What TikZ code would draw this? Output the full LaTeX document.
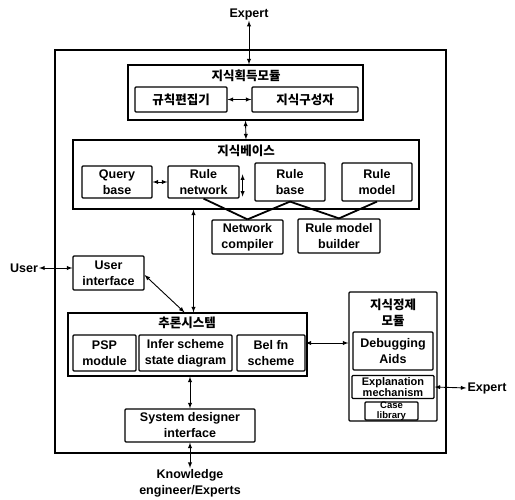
\documentclass[tikz,border=0pt]{standalone}
\usepackage{fontspec}
\setmainfont{Liberation Sans}
\newfontfamily\kr{Noto Sans CJK KR}
\usetikzlibrary{arrows}

\begin{document}
\begin{tikzpicture}[x=1pt, y=-1pt, >=latex,
  frame/.style={draw, line width=1.2pt, inner sep=0pt},
  box/.style={draw, line width=1.2pt, rounded corners=1pt, inner sep=0pt, align=center,
    font=\fontsize{12.5}{16}\selectfont\bfseries},
  lbl/.style={inner sep=1pt, align=center, font=\fontsize{12.5}{16}\selectfont\bfseries},
  ttl/.style={inner sep=1pt, align=center, font=\fontsize{12.5}{15.5}\selectfont\kr\bfseries},
  link/.style={<->, line width=0.9pt},
  feed/.style={line width=1.8pt}]
\useasboundingbox (0,0) rectangle (515,500);

% whole system
\node[frame, minimum width=391pt, minimum height=403pt] (sys) at (250.5,251.5) {};

% acquisition
\node[frame, minimum width=235pt, minimum height=55pt] (acq) at (245.5,92.5) {};
\node[ttl] (acqt) at (246,76) {지식획득모듈};
\node[box, minimum width=92pt, minimum height=25pt] (edit) at (181,99.5) {\kr 규칙편집기};
\node[box, minimum width=106pt, minimum height=25pt] (build) at (305,99.5) {\kr 지식구성자};

% knowledge base
\node[frame, minimum width=346pt, minimum height=69pt] (kb) at (246,174.5) {};
\node[ttl] (kbt) at (246,151) {지식베이스};
\node[box, minimum width=70pt, minimum height=32pt] (qb) at (117,182) {Query\\base};
\node[box, minimum width=71pt, minimum height=32pt] (rn) at (203.5,182) {Rule\\network};
\node[box, minimum width=70pt, minimum height=38pt] (rb) at (290,182) {Rule\\base};
\node[box, minimum width=70pt, minimum height=38pt] (rm) at (377,182) {Rule\\model};
\node[box, minimum width=71pt, minimum height=34pt] (nc) at (247.5,237) {Network\\compiler};
\node[box, minimum width=82pt, minimum height=34pt] (rmb) at (339,236) {Rule model\\builder};

% user side
\node[lbl] (user) at (24,268) {User};
\node[box, minimum width=71pt, minimum height=34pt] (ui) at (108.5,273) {User\\interface};

% inference
\node[frame, minimum width=239pt, minimum height=63pt] (inf) at (187.5,344.5) {};
\node[ttl] (inft) at (187,323) {추론시스템};
\node[box, minimum width=63pt, minimum height=36pt] (psp) at (104.5,353) {PSP\\module};
\node[box, minimum width=93pt, minimum height=36pt] (isd) at (185.5,353) {Infer scheme\\state diagram};
\node[box, minimum width=68pt, minimum height=36pt] (bel) at (271,353) {Bel fn\\scheme};

\node[box, minimum width=130pt, minimum height=33pt] (sdi) at (190,425.5) {System designer\\interface};
\node[lbl] (ke) at (190,483) {Knowledge\\engineer/Experts};

% refinement
\node[frame, rounded corners=1pt, minimum width=88pt, minimum height=129pt] (ref) at (393,356.5) {};
\node[ttl] (reft) at (393,313) {지식정제\\모듈};
\node[box, minimum width=80pt, minimum height=38pt] (dbg) at (393,351) {Debugging\\Aids};
\node[box, minimum width=82pt, minimum height=23pt, font=\fontsize{11}{11.5}\selectfont\bfseries] (expl) at (393,387) {Explanation\\mechanism};
\node[box, minimum width=53pt, minimum height=18pt, font=\fontsize{9.5}{9.5}\selectfont\bfseries] (case) at (391.5,411) {Case\\library};

\node[lbl] (exptop) at (249,14) {Expert};
\node[lbl] (expr) at (487,388) {Expert};

% connectors
\draw[link] (exptop.south) -- (exptop.south |- acq.north);
\draw[link] (edit) -- (build);
\draw[link] (acq.south) -- (kb.north);
\draw[link] (qb) -- (rn);
\path (rn.north east) ++(3,9) coordinate (rnup);
\path (rn.south east) ++(3,-2) coordinate (rndn);
\draw[link] (rnup) -- (rndn);
\draw[feed] (rn.south) -- (nc.north);
\draw[feed] (rb.south) -- (nc.north);
\draw[feed] (rb.south) -- (rmb.north);
\draw[feed] (rm.south) -- (rmb.north);
\path (inf.north) ++(6,0) coordinate (infin);
\draw[link] (infin |- kb.south) -- (infin);
\draw[link] (user.east) -- (user.east -| ui.west);
\path (ui.east) ++(0,2) coordinate (uiout);
\path (inf.north) ++(-3,0) coordinate (infui);
\draw[link] (uiout) -- (infui);
\draw[link] (sdi.north |- inf.south) -- (sdi.north);
\draw[link] (sdi.south) -- (ke.north);
\path (bel.east) ++(0,-10) coordinate (belout);
\draw[link] (belout) -- (belout -| ref.west);
\draw[link] (expl.east) -- (expr.west);
\end{tikzpicture}
\end{document}
